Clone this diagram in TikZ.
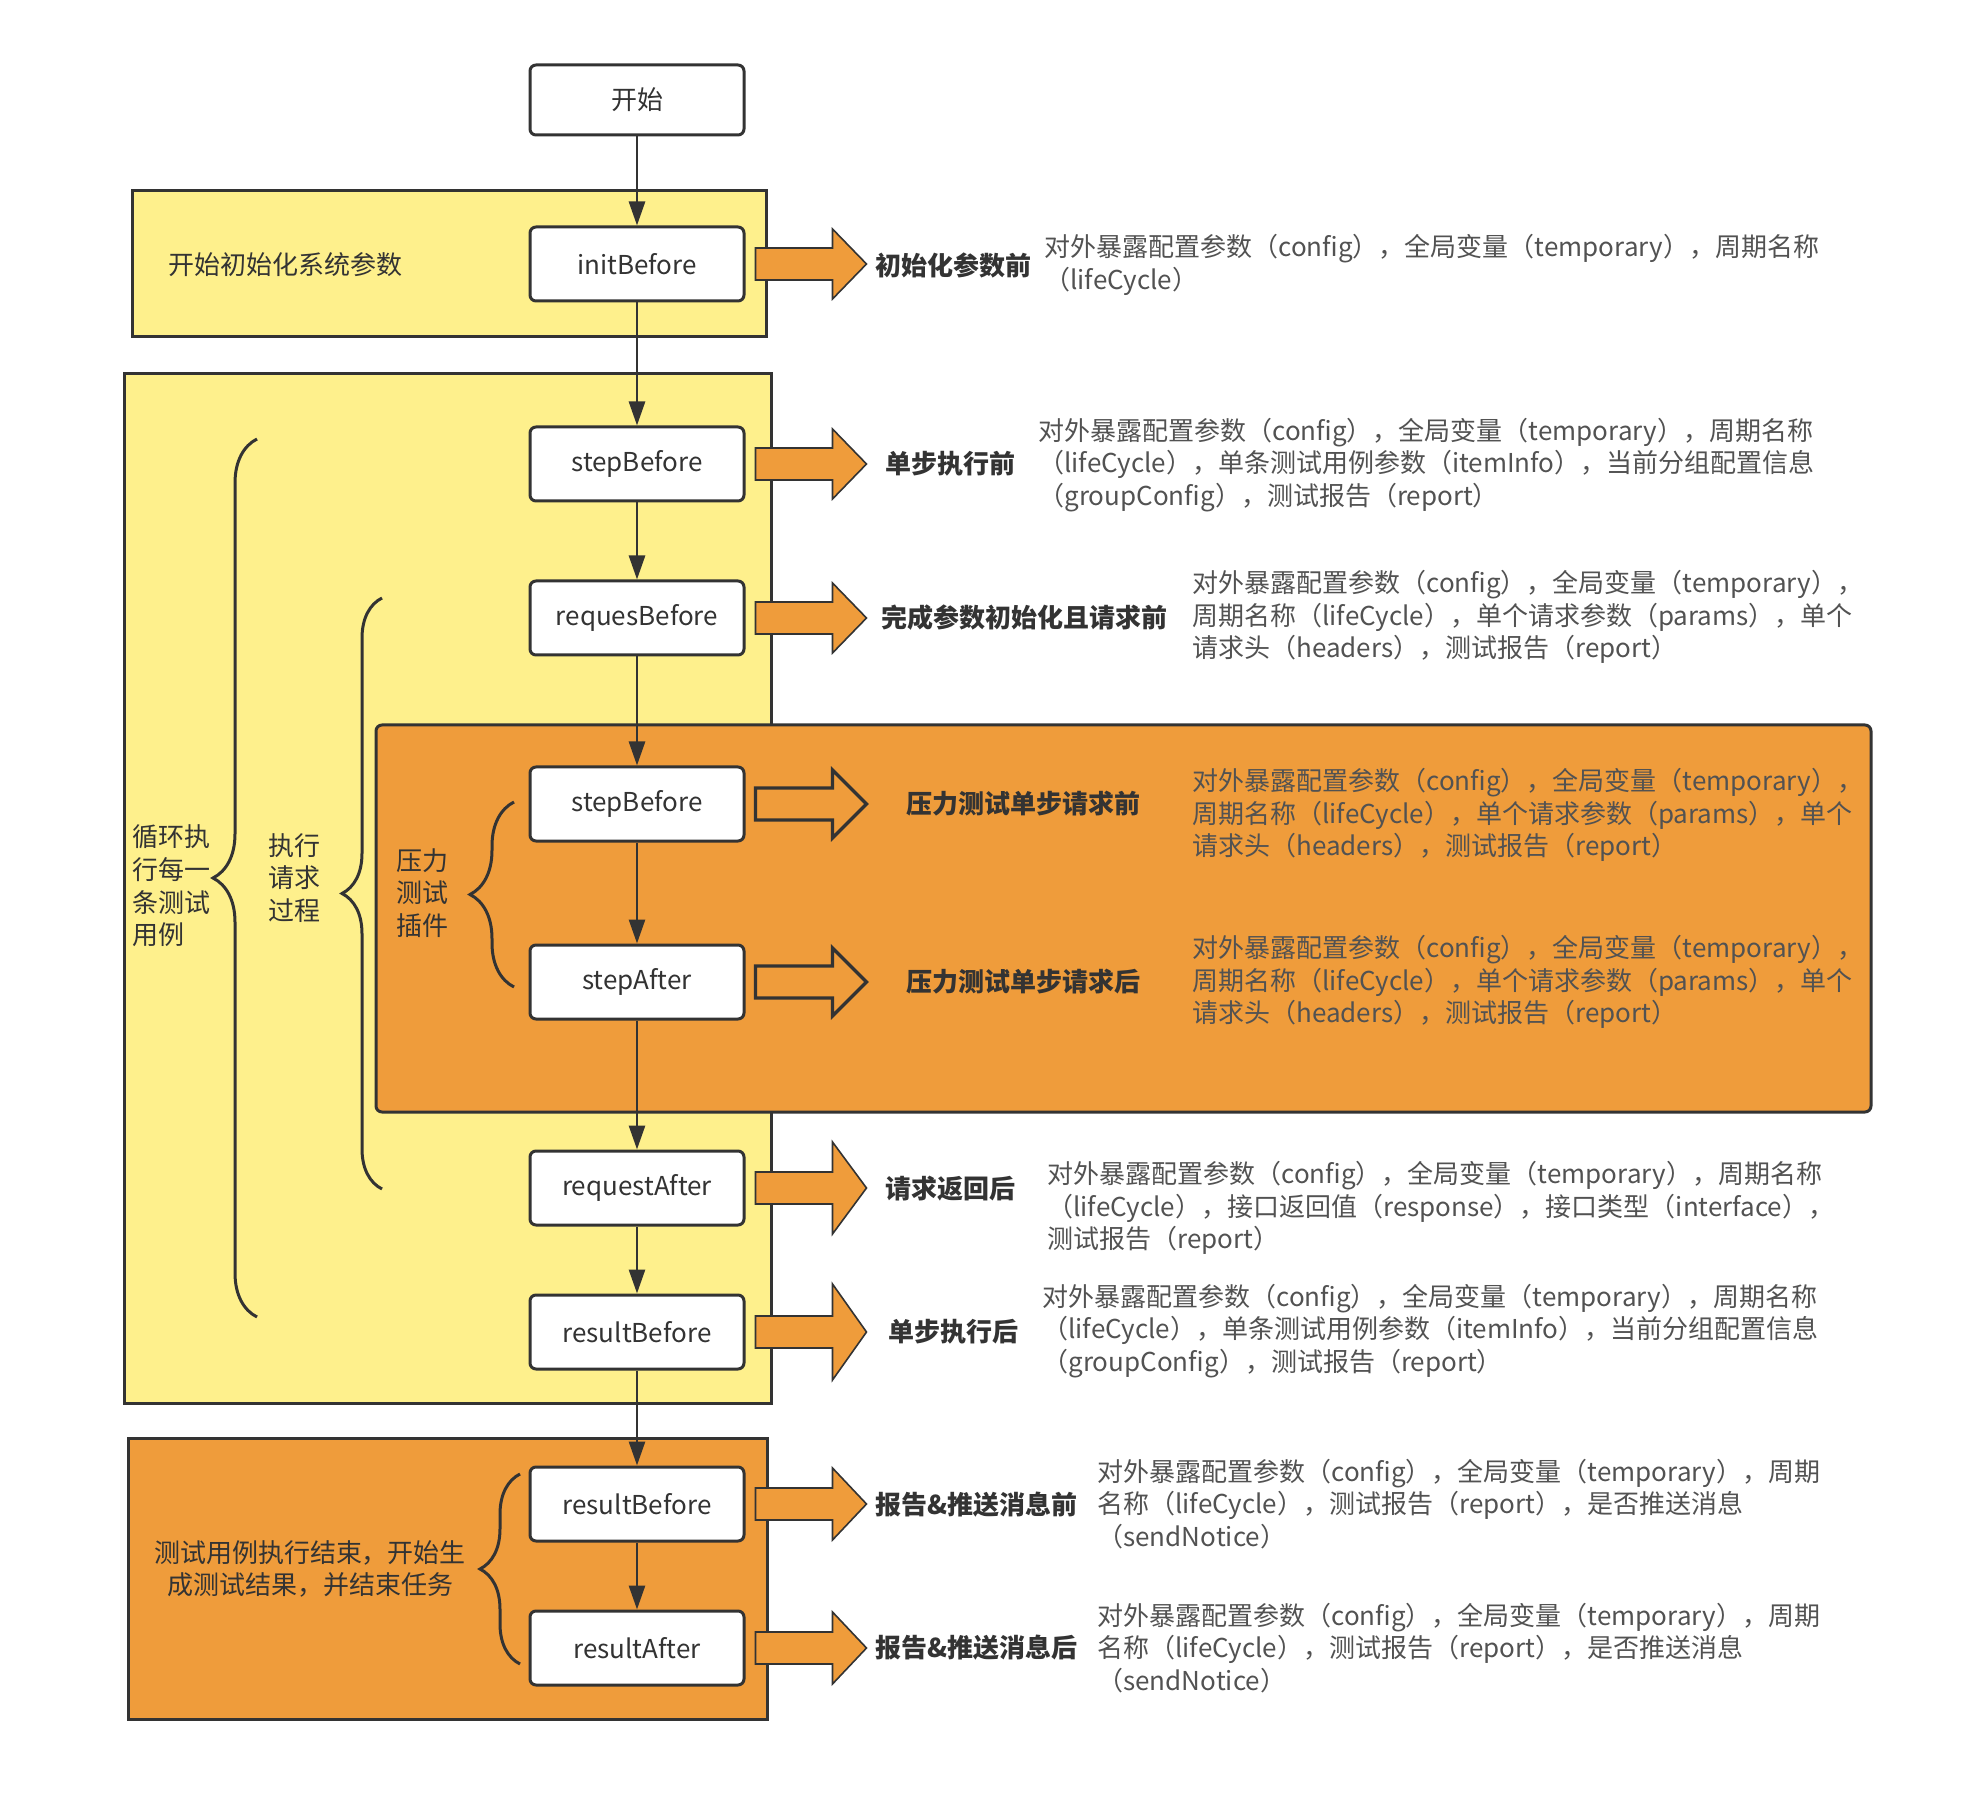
\documentclass[tikz,border=0pt]{standalone}
\usepackage{fontspec}
\setmainfont{Noto Sans CJK SC}
\usetikzlibrary{arrows.meta,positioning,calc,decorations.pathreplacing}
\definecolor{ink}{HTML}{333333}
\definecolor{pale}{HTML}{FEF08C}
\definecolor{amber}{HTML}{EF9C3B}
\newcommand{\fs}{\fontsize{13}{16.3}\selectfont}
% fat arrow out of a hook box: [style]{node}{half height of head}
\newcommand{\fatarr}[3][fat]{%
  \draw[#1] ($(#2.east)+(10,-16)$) -- ++(77,0) -- ++(0,{16-#3}) -- ($(#2.east)+(121,0)$)
    -- ($(#2.east)+(87,#3)$) -- ++(0,{16-#3}) -- ($(#2.east)+(10,16)$) -- cycle;}
\tikzset{
  hook/.style={draw=ink,fill=white,rounded corners=3pt,line width=1.5pt,minimum width=107pt,minimum height=37pt,inner sep=0pt,font=\fs,text=ink},
  grpy/.style={draw=ink,fill=pale,line width=1.5pt},
  grpo/.style={draw=ink,fill=amber,line width=1.5pt},
  arr/.style={-{Triangle[length=12pt,width=8pt]},line width=1.4pt,draw=ink},
  fat/.style={draw=ink,fill=amber,line width=0.8pt},
  fato/.style={draw=ink,fill=amber,line width=1.6pt},
  lbl/.style={font=\fs,text=ink!85,align=left,anchor=west,inner sep=0pt},
  head/.style={font=\fs\bfseries,text=ink,anchor=west,inner sep=0pt},
  note/.style={font=\fs,text=ink,align=left,inner sep=0pt},
  brc/.style={decorate,decoration={brace,amplitude=#1},draw=ink,line width=1.5pt},
}
\begin{document}
\begin{tikzpicture}[x=0.5pt,y=-0.5pt]
\useasboundingbox (0,0) rectangle (1966,1802);
% groups
\draw[grpy] (132,191) rectangle (766,337);
\draw[grpy] (124,374) rectangle (771,1403);
\draw[grpo,rounded corners=3pt] (376,725) rectangle (1871,1112);
\draw[grpo] (128,1438) rectangle (767,1719);
\draw[brc=22pt] (257,1317) -- (257,439);
\draw[brc=20pt] (382,1189) -- (382,598);
\draw[brc=22pt] (514,987) -- (514,802);
\draw[brc=20pt] (520,1664) -- (520,1474);
\node[note,anchor=west] (g1) at (168,265) {开始初始化系统参数};
\node[note,anchor=west] (loop) at (132,886) {循环执\\行每一\\条测试\\用例};
\node[note,anchor=west] (req) at (268,878) {执行\\请求\\过程};
\node[note,anchor=west] (plug) at (396,893) {压力\\测试\\插件};
\node[note,align=center] (fin) at (310,1569) {测试用例执行结束，开始生\\成测试结果，并结束任务};
% hooks
\node[hook,minimum height=35pt] (start) at (637,100) {开始};
\node[hook] (init) at (637,264) {initBefore};
\node[hook] (sb) at (637,464) {stepBefore};
\node[hook] (rb) at (637,618) {requesBefore};
\node[hook] (psb) at (637,804) {stepBefore};
\node[hook] (psa) at (637,982) {stepAfter};
\node[hook] (ra) at (637,1188) {requestAfter};
\node[hook] (resb) at (637,1332) {resultBefore};
\node[hook] (resb2) at (637,1504) {resultBefore};
\node[hook] (resa) at (637,1648) {resultAfter};
\foreach \a/\b in {start/init,init/sb,sb/rb,rb/psb,psb/psa,psa/ra,ra/resb,resb/resb2,resb2/resa}
  \draw[arr] (\a) -- (\b);
\fatarr{init}{35}
\fatarr{sb}{35}
\fatarr{rb}{35}
\fatarr[fato]{psb}{34}
\fatarr[fato]{psa}{34}
\fatarr{ra}{46}
\fatarr{resb}{48}
\fatarr{resb2}{36}
\fatarr{resa}{36}
% names and parameters
\node[head] (h1) at (875,265) {初始化参数前};
\node[head] (h2) at (885,464) {单步执行前};
\node[head] (h3) at (881,618) {完成参数初始化且请求前};
\node[head] (h4) at (906,804) {压力测试单步请求前};
\node[head] (h5) at (906,982) {压力测试单步请求后};
\node[head] (h6) at (885,1189) {请求返回后};
\node[head] (h7) at (888,1332) {单步执行后};
\node[head] (h8) at (875,1505) {报告\&推送消息前};
\node[head] (h9) at (875,1648) {报告\&推送消息后};
\node[lbl] (d1) at (1044,265) {对外暴露配置参数（config），全局变量（temporary），周期名称\\（lifeCycle）};
\node[lbl] (d2) at (1038,465) {对外暴露配置参数（config），全局变量（temporary），周期名称\\（lifeCycle），单条测试用例参数（itemInfo），当前分组配置信息\\（groupConfig），测试报告（report）};
\node[lbl] (d3) at (1192,617) {对外暴露配置参数（config），全局变量（temporary），\\周期名称（lifeCycle），单个请求参数（params），单个\\请求头（headers），测试报告（report）};
\node[lbl] (d4) at (1192,815) {对外暴露配置参数（config），全局变量（temporary），\\周期名称（lifeCycle），单个请求参数（params），单个\\请求头（headers），测试报告（report）};
\node[lbl] (d5) at (1192,982) {对外暴露配置参数（config），全局变量（temporary），\\周期名称（lifeCycle），单个请求参数（params），单个\\请求头（headers），测试报告（report）};
\node[lbl] (d6) at (1047,1208) {对外暴露配置参数（config），全局变量（temporary），周期名称\\（lifeCycle），接口返回值（response），接口类型（interface），\\测试报告（report）};
\node[lbl] (d7) at (1042,1331) {对外暴露配置参数（config），全局变量（temporary），周期名称\\（lifeCycle），单条测试用例参数（itemInfo），当前分组配置信息\\（groupConfig），测试报告（report）};
\node[lbl] (d8) at (1097,1504) {对外暴露配置参数（config），全局变量（temporary），周期\\名称（lifeCycle），测试报告（report），是否推送消息\\（sendNotice）};
\node[lbl] (d9) at (1097,1648) {对外暴露配置参数（config），全局变量（temporary），周期\\名称（lifeCycle），测试报告（report），是否推送消息\\（sendNotice）};
\end{tikzpicture}
\end{document}
